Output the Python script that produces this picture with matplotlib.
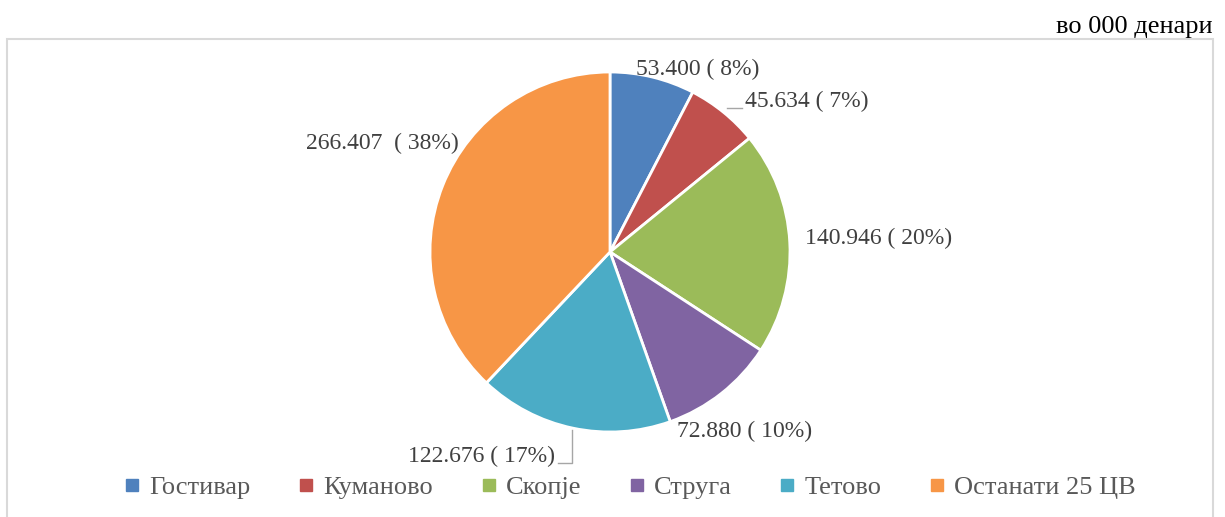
import matplotlib.pyplot as plt
from matplotlib.patches import Rectangle
from matplotlib.lines import Line2D

plt.rcParams['font.family'] = ['Liberation Serif', 'DejaVu Serif']

# Податоци
categories = ['Гостивар', 'Куманово', 'Скопје', 'Струга', 'Тетово', 'Останати 25 ЦВ']
values = [53400, 45634, 140946, 72880, 122676, 266407]
labels = ['53.400 ( 8%)', '45.634 ( 7%)', '140.946 ( 20%)', '72.880 ( 10%)',
          '122.676 ( 17%)', '266.407  ( 38%)']
colors = ['#4F81BD', '#C0504D', '#9BBB59', '#8064A2', '#4BACC6', '#F79646']

W, H = 1225, 517
fig = plt.figure(figsize=(W / 100, H / 100), dpi=100)
ax = fig.add_axes([0, 0, 1, 1])


def py(y):
    return H - y


# рамка
ax.add_patch(Rectangle((7, py(520)), 1206, 520 - 39, fill=False,
                       edgecolor='#D9D9D9', linewidth=1.5))
ax.text(1213, py(27), 'во 000 денари', ha='right', va='center', fontsize=19, color='black')

ax.pie(values, colors=colors, startangle=90, counterclock=False,
       center=(610, py(252)), radius=180, frame=True,
       wedgeprops=dict(edgecolor='white', linewidth=2))
ax.set_xlim(0, W)
ax.set_ylim(0, H)
ax.set_aspect('equal')
ax.axis('off')

lab_pos = [(636, 69, 'left'), (745, 101, 'left'), (805, 238, 'left'),
           (677, 431, 'left'), (555, 456, 'right'), (459, 143, 'right')]
for lab, (x, y, ha) in zip(labels, lab_pos):
    ax.text(x, py(y), lab, ha=ha, va='center', fontsize=17, color='#404040')

# водечки линии
ax.plot([727, 742], [py(108), py(108)], color='#A6A6A6', lw=1)
ax.plot([558, 572, 572], [py(463), py(463), py(430)], color='#A6A6A6', lw=1)

handles = [Line2D([], [], marker='s', linestyle='', markersize=8,
                  markerfacecolor=c, markeredgecolor=c) for c in colors]
ax.legend(handles, categories, loc='center', bbox_to_anchor=(630 / W, 1 - 487 / H),
          ncol=6, frameon=False, fontsize=19, handletextpad=0.35,
          columnspacing=1.8, labelcolor='#595959', handlelength=0.6)

fig.savefig('out.png', dpi=100)
